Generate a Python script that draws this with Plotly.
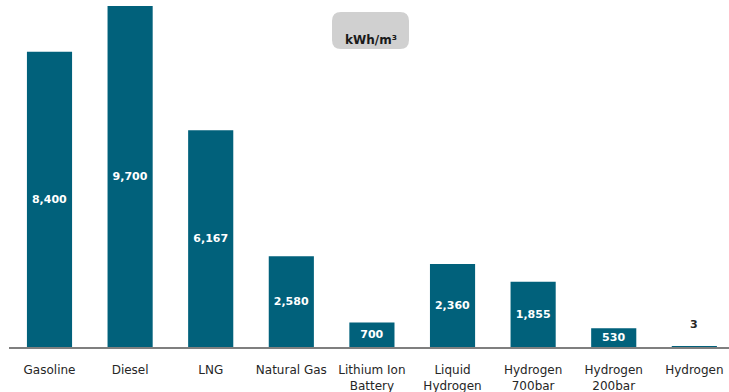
import plotly.graph_objects as go

categories = ["Gasoline", "Diesel", "LNG", "Natural Gas", "Lithium Ion<br>Battery",
              "Liquid<br>Hydrogen", "Hydrogen<br>700bar", "Hydrogen<br>200bar", "Hydrogen"]
values = [8400, 9700, 6167, 2580, 700, 2360, 1855, 530, 3]
unit_label = "kWh/m³"

W, H = 729, 392
ML, MR, MT, MB = 9, 0, 6, 45
PW, PH = W - ML - MR, H - MT - MB

bar_color = "#01617B"

texts = [f"{v:,}" if v >= 100 else "" for v in values]

fig = go.Figure(go.Bar(
    x=categories, y=values, marker_color=bar_color, marker_line_width=0,
    text=texts, textposition="inside", insidetextanchor="middle",
    constraintext="none",
    textfont=dict(family="DejaVu Sans", size=11, color="white", weight="bold"),
    hoverinfo="skip",
))

for c, v in zip(categories, values):
    if v < 100:
        fig.add_annotation(x=c, y=v, text=f"{v:,}", showarrow=False, yanchor="bottom",
                           yshift=14, font=dict(family="DejaVu Sans", size=11,
                                                color="#262626", weight="bold"))

def px_x(p):
    return (p - ML) / PW

def px_y(p):
    return (H - MB - p) / PH

x0, x1, y0, y1, r = 332, 409, 12, 49, 9
path = (f"M {px_x(x0 + r)},{px_y(y0)} L {px_x(x1 - r)},{px_y(y0)} "
        f"Q {px_x(x1)},{px_y(y0)} {px_x(x1)},{px_y(y0 + r)} "
        f"L {px_x(x1)},{px_y(y1 - r)} Q {px_x(x1)},{px_y(y1)} {px_x(x1 - r)},{px_y(y1)} "
        f"L {px_x(x0 + r)},{px_y(y1)} Q {px_x(x0)},{px_y(y1)} {px_x(x0)},{px_y(y1 - r)} "
        f"L {px_x(x0)},{px_y(y0 + r)} Q {px_x(x0)},{px_y(y0)} {px_x(x0 + r)},{px_y(y0)} Z")
fig.add_shape(type="path", path=path, xref="paper", yref="paper",
              fillcolor="#D0D0D0", line_width=0, layer="above")
fig.add_annotation(x=px_x((x0 + x1) / 2), y=px_y((y0 + y1) / 2), xref="paper", yref="paper",
                   text=unit_label, showarrow=False,
                   font=dict(family="DejaVu Sans", size=12, color="#1a1a1a", weight="bold"))

fig.update_layout(
    width=W, height=H, margin=dict(l=ML, r=MR, t=MT, b=MB),
    paper_bgcolor="white", plot_bgcolor="white", showlegend=False,
    bargap=0.44,
    xaxis=dict(range=[-0.5025, 8.43], showgrid=False, showline=True, linecolor="#7F7F7F",
               linewidth=1.5, ticks="outside", ticklen=11, tickcolor="rgba(0,0,0,0)",
               tickfont=dict(family="DejaVu Sans", size=12, color="#262626"),
               fixedrange=True),
    yaxis=dict(range=[0, 9700], showgrid=False, showticklabels=False, zeroline=False,
               showline=False, fixedrange=True),
)

fig.write_html("out.html")
